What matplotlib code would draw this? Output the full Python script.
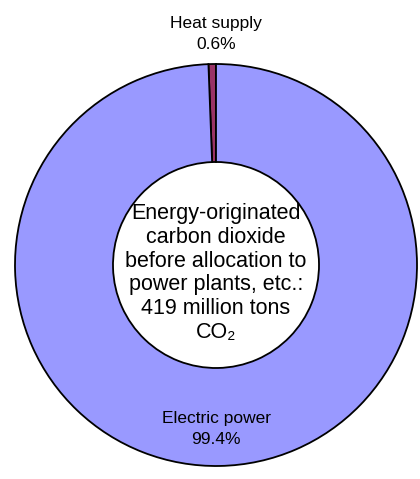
import matplotlib.pyplot as plt

labels = ['Heat supply', 'Electric power']
shares = [0.6, 99.4]
colors = ['#993366', '#9999FF']
center_text = 'Energy-originated\ncarbon dioxide\nbefore allocation to\npower plants, etc.:\n419 million tons\nCO\u2082'

W, H = 420, 479
fig = plt.figure(figsize=(W / 100, H / 100), dpi=100)
ax = fig.add_axes([0, 0, 1, 1])

cx, cy, r = 216, H - 265, 201
wedges, _ = ax.pie(shares, colors=colors, startangle=90, counterclock=True,
                   center=(cx, cy), radius=r,
                   wedgeprops=dict(width=r - 103, edgecolor='black', linewidth=1.3))

fam = ['Liberation Sans', 'DejaVu Sans']
ax.text(cx, H - 34, '%s\n%.1f%%' % (labels[0], shares[0]), ha='center', va='center',
        fontsize=12.5, family=fam, linespacing=1.5)
ax.text(cx, H - 429, '%s\n%.1f%%' % (labels[1], shares[1]), ha='center', va='center',
        fontsize=12.5, family=fam, linespacing=1.45)
ax.text(cx, H - 273, center_text, ha='center', va='center',
        fontsize=15.5, family=fam, linespacing=1.17)

ax.set_xlim(0, W)
ax.set_ylim(0, H)
ax.axis('off')
fig.savefig('out.png', dpi=100)
